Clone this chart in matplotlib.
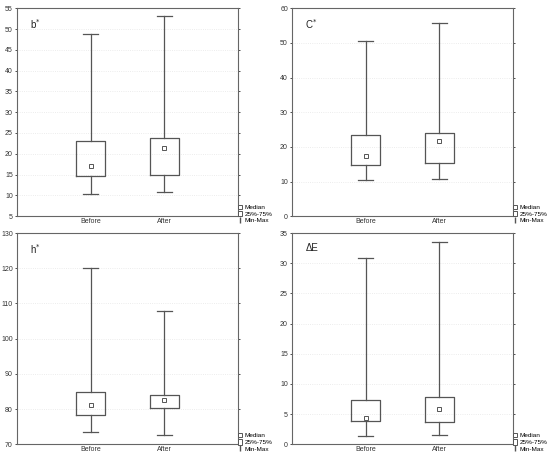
import matplotlib
matplotlib.use("Agg")
import matplotlib.pyplot as plt
from matplotlib.lines import Line2D
from matplotlib.patches import Patch

plt.rcParams['font.family'] = ['Liberation Sans', 'DejaVu Sans']

groups = ["Before", "After"]

# min, q1, median, q3, max for each group
b_star = [[10.3, 14.6, 17.1, 23.0, 48.7], [10.8, 15.0, 21.3, 23.9, 53.1]]
c_star = [[10.5, 14.8, 17.4, 23.3, 50.5], [10.8, 15.4, 21.6, 23.9, 55.6]]
h_star = [[73.6, 78.4, 81.1, 84.7, 120.1], [72.7, 80.4, 82.6, 83.9, 107.8]]
delta_e = [[1.35, 3.8, 4.3, 7.3, 30.9], [1.5, 3.7, 5.8, 7.9, 33.6]]

panels = [
    ("b$^{*}$", b_star, (5, 55), list(range(5, 56, 5))),
    ("C$^{*}$", c_star, (0, 60), list(range(0, 61, 10))),
    ("h$^{*}$", h_star, (70, 130), list(range(70, 131, 10))),
    ("ΔE", delta_e, (0, 35), list(range(0, 36, 5))),
]

rects = [
    [0.031, 0.527, 0.402, 0.455],
    [0.531, 0.527, 0.402, 0.455],
    [0.031, 0.028, 0.402, 0.462],
    [0.531, 0.028, 0.402, 0.462],
]

line_col = "#555555"

fig = plt.figure(figsize=(5.5, 4.57), dpi=100)

for (label, data, ylim, ticks), rect in zip(panels, rects):
    ax = fig.add_axes(rect)
    stats = []
    for name, (lo, q1, med, q3, hi) in zip(groups, data):
        stats.append(dict(label=name, whislo=lo, q1=q1, med=med, q3=q3,
                          whishi=hi, mean=med, fliers=[]))
    ax.bxp(stats, positions=[1, 2], widths=0.4, showmeans=True,
           showfliers=False,
           boxprops=dict(color=line_col, linewidth=0.9),
           whiskerprops=dict(color=line_col, linewidth=0.9),
           capprops=dict(color=line_col, linewidth=0.9),
           capwidths=0.2,
           medianprops=dict(linestyle="none"),
           meanprops=dict(marker="s", markersize=2.5, markerfacecolor="white",
                          markeredgecolor=line_col, markeredgewidth=0.7))
    ax.set_xlim(0, 3)
    ax.set_ylim(*ylim)
    ax.set_yticks(ticks)
    ax.set_xticks([1, 2])
    ax.set_xticklabels(groups)
    ax.tick_params(axis="both", labelsize=5, colors="#333333", length=1.5,
                   width=0.6, pad=1.5)
    ax.tick_params(axis="x", length=0)
    ax.tick_params(axis="y", right=True, direction="out")
    ax.yaxis.grid(True, color="#e6e6e6", linestyle=":", linewidth=0.6)
    ax.set_axisbelow(True)
    for s in ax.spines.values():
        s.set_color("#666666")
        s.set_linewidth(0.8)
    ax.text(0.06, 0.955, label, transform=ax.transAxes, fontsize=7,
            va="top", ha="left", color="#222222")

    handles = [
        Line2D([], [], marker="s", linestyle="none", markersize=2.5,
               markerfacecolor="white", markeredgecolor=line_col,
               markeredgewidth=0.7),
        Patch(facecolor="white", edgecolor=line_col, linewidth=0.7),
        Line2D([], [], marker="$\\mathsf{I}$", linestyle="none",
               markersize=5, color=line_col),
    ]
    ax.legend(handles, ["Median", "25%-75%", "Min-Max"], loc="lower left",
              bbox_to_anchor=(1.0, -0.035), frameon=False, fontsize=4.6,
              handlelength=0.6, handleheight=1.0, handletextpad=0.4,
              labelspacing=0.1, borderpad=0, borderaxespad=0)

fig.savefig("out.png", dpi=100, facecolor="white")
